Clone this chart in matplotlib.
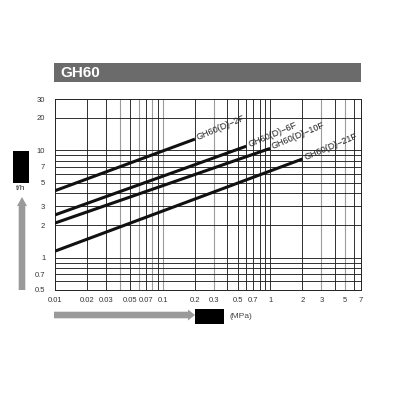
import numpy as np
import matplotlib
matplotlib.use("Agg")
import matplotlib.pyplot as plt
from matplotlib.patches import Rectangle, Polygon

plt.rcParams['font.family'] = ['Liberation Sans', 'DejaVu Sans']

# model names and the end points of each straight (log-log) line
models = ["GH60(D)−2F", "GH60(D)−6F", "GH60(D)−10F", "GH60(D)−21F"]
p_start = [0.01, 0.01, 0.01, 0.01]      # MPa
p_end = [0.2, 0.6, 1.0, 2.0]            # MPa
q_start = [4.2, 2.5, 2.1, 1.15]         # t/h
q_end = [12.7, 10.9, 10.4, 8.3]         # t/h

xticks = [0.01, 0.02, 0.03, 0.05, 0.07, 0.1, 0.2, 0.3, 0.5, 0.7, 1, 2, 3, 5, 7]
xtick_labels = ["0.01", "0.02", "0.03", "0.05", "0.07", "0.1", "0.2", "0.3",
                "0.5", "0.7", "1", "2", "3", "5", "7"]
yticks = [0.5, 0.7, 1, 2, 3, 5, 7, 10, 20, 30]
ytick_labels = ["0.5", "0.7", "1", "2", "3", "5", "7", "10", "20", "30"]

# grid lines (some printed lighter in the original)
xgrid_dark = [0.02, 0.03, 0.05, 0.07, 0.09, 0.2, 0.4, 0.5, 0.6, 0.7, 0.8, 0.9, 1, 2, 4, 6]
xgrid_light = [0.04, 0.06, 0.08, 0.1, 0.3, 3, 5]
ygrid = [0.6, 0.7, 0.8, 0.9, 1, 2, 3, 4, 5, 6, 7, 8, 9, 10, 20]

W, H = 400, 400
fig = plt.figure(figsize=(4, 4), dpi=100)


def px(x, y):
    return (x / W, 1 - y / H)


ax = fig.add_axes([55 / W, 1 - 290 / H, (361 - 55) / W, (290 - 99) / H])
ax.set_xscale("log")
ax.set_yscale("log")
ax.set_xlim(0.01, 7)
ax.set_ylim(0.5, 30)

for v in xgrid_dark:
    ax.axvline(v, color="#222222", lw=0.65, zorder=1)
for v in xgrid_light:
    ax.axvline(v, color="#9c9c9c", lw=0.8, zorder=1)
for v in ygrid:
    ax.axhline(v, color="#222222", lw=0.65, zorder=1)

for name, x0, x1, y0, y1 in zip(models, p_start, p_end, q_start, q_end):
    ax.plot([x0, x1], [y0, y1], color="#111111", lw=2.2, solid_capstyle="butt", zorder=3)
    ax.annotate(name, (x1, y1), xytext=(1.5, 1), textcoords="offset points",
                rotation=23, rotation_mode="anchor", ha="left", va="center",
                fontsize=6.5, color="#222222", zorder=4)

ax.xaxis.set_minor_locator(matplotlib.ticker.NullLocator())
ax.yaxis.set_minor_locator(matplotlib.ticker.NullLocator())
ax.set_xticks(xticks)
ax.set_xticklabels(xtick_labels)
ax.set_yticks(yticks)
ax.set_yticklabels(ytick_labels)
ax.tick_params(length=0, labelsize=5.5, labelcolor="#333333")
ax.tick_params(axis="x", pad=5)
ax.tick_params(axis="y", pad=7)
for s in ax.spines.values():
    s.set_color("#222222")
    s.set_linewidth(0.7)

# title bar
fig.patches.append(Rectangle(px(54, 82), 307 / W, 19 / H, transform=fig.transFigure,
                             facecolor="#6b6b6b", edgecolor="none"))
fig.text(*px(60, 73), "GH60", color="white", fontsize=11, fontweight="bold",
         ha="left", va="center")

# y axis unit box and arrow
fig.patches.append(Rectangle(px(13, 183), 16 / W, 32 / H, transform=fig.transFigure,
                             facecolor="black", edgecolor="none"))
fig.text(*px(21, 188), "t/h", fontsize=6, color="#333333", ha="center", va="center")
up_arrow = [px(18.7, 290), px(25.3, 290), px(25.3, 206), px(27, 206), px(22, 197),
            px(17, 206), px(18.7, 206)]
fig.patches.append(Polygon(up_arrow, closed=True, transform=fig.transFigure,
                           facecolor="#9a9a9a", edgecolor="none"))

# x axis unit arrow and box
right_arrow = [px(54, 311.7), px(188, 311.7), px(188, 309.5), px(195, 315),
               px(188, 320.5), px(188, 318.3), px(54, 318.3)]
fig.patches.append(Polygon(right_arrow, closed=True, transform=fig.transFigure,
                           facecolor="#9a9a9a", edgecolor="none"))
fig.patches.append(Rectangle(px(195, 324), 29 / W, 15 / H, transform=fig.transFigure,
                             facecolor="black", edgecolor="none"))
fig.text(*px(229, 316), "(MPa)", fontsize=6, color="#444444", ha="left", va="center")

plt.savefig("out.png", dpi=100)
